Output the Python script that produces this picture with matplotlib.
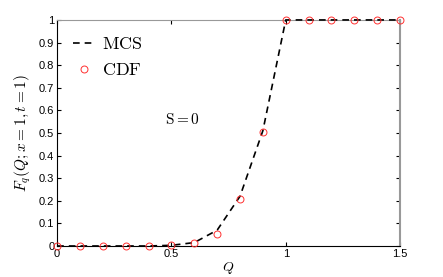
import matplotlib
matplotlib.use('Agg')
import matplotlib.pyplot as plt

plt.rcParams['mathtext.fontset'] = 'cm'
plt.rcParams['font.family'] = ['Liberation Sans', 'DejaVu Sans']

q = [0, 0.1, 0.2, 0.3, 0.4, 0.5, 0.6, 0.7, 0.8, 0.9, 1.0, 1.1, 1.2, 1.3, 1.4, 1.5]
mcs = [0, 0, 0, 0, 0, 0.003, 0.015, 0.07, 0.22, 0.51, 1, 1, 1, 1, 1, 1]
cdf = [0, 0, 0, 0, 0, 0.005, 0.015, 0.055, 0.21, 0.505, 1, 1, 1, 1, 1, 1]
yticks = [0, 0.1, 0.2, 0.3, 0.4, 0.5, 0.6, 0.7, 0.8, 0.9, 1]
xticks = [0, 0.5, 1, 1.5]

fig = plt.figure(figsize=(4.43, 2.77), dpi=100)
ax = fig.add_axes([0.129, 0.112, 0.774, 0.816])

ax.plot(q, mcs, 'k--', lw=1.2, dashes=(4, 3), label=r'$\mathrm{MCS}$', clip_on=False, zorder=4)
ax.plot(q, cdf, 'o', mfc='none', mec='#ff3030', ms=5, mew=0.7, ls='none',
        label=r'$\mathrm{CDF}$', clip_on=False, zorder=5)

ax.set_xlim(0, 1.5)
ax.set_ylim(0, 1)
ax.set_xticks(xticks)
ax.set_xticklabels(['0', '0.5', '1', '1.5'])
ax.set_yticks(yticks)
ax.set_yticklabels(['0', '0.1', '0.2', '0.3', '0.4', '0.5', '0.6', '0.7', '0.8', '0.9', '1'])
ax.tick_params(direction='in', length=3, labelsize=8, pad=2, top=True, right=True)
for s in ['top', 'right']:
    ax.spines[s].set_color('#999999')
ax.spines['right'].set_linewidth(1.5)

ax.set_xlabel('$Q$', fontsize=10, labelpad=1)
ax.set_ylabel('$F_q(Q;x=1,t=1)$', fontsize=11, labelpad=4)
ax.text(0.47, 0.54, r'$\mathrm{S{=}0}$', fontsize=11)

ax.legend(loc='upper left', frameon=False, fontsize=13, handlelength=1.2,
          handletextpad=0.4, borderaxespad=0.5, labelspacing=0.5)

fig.savefig('out.png', dpi=100)
